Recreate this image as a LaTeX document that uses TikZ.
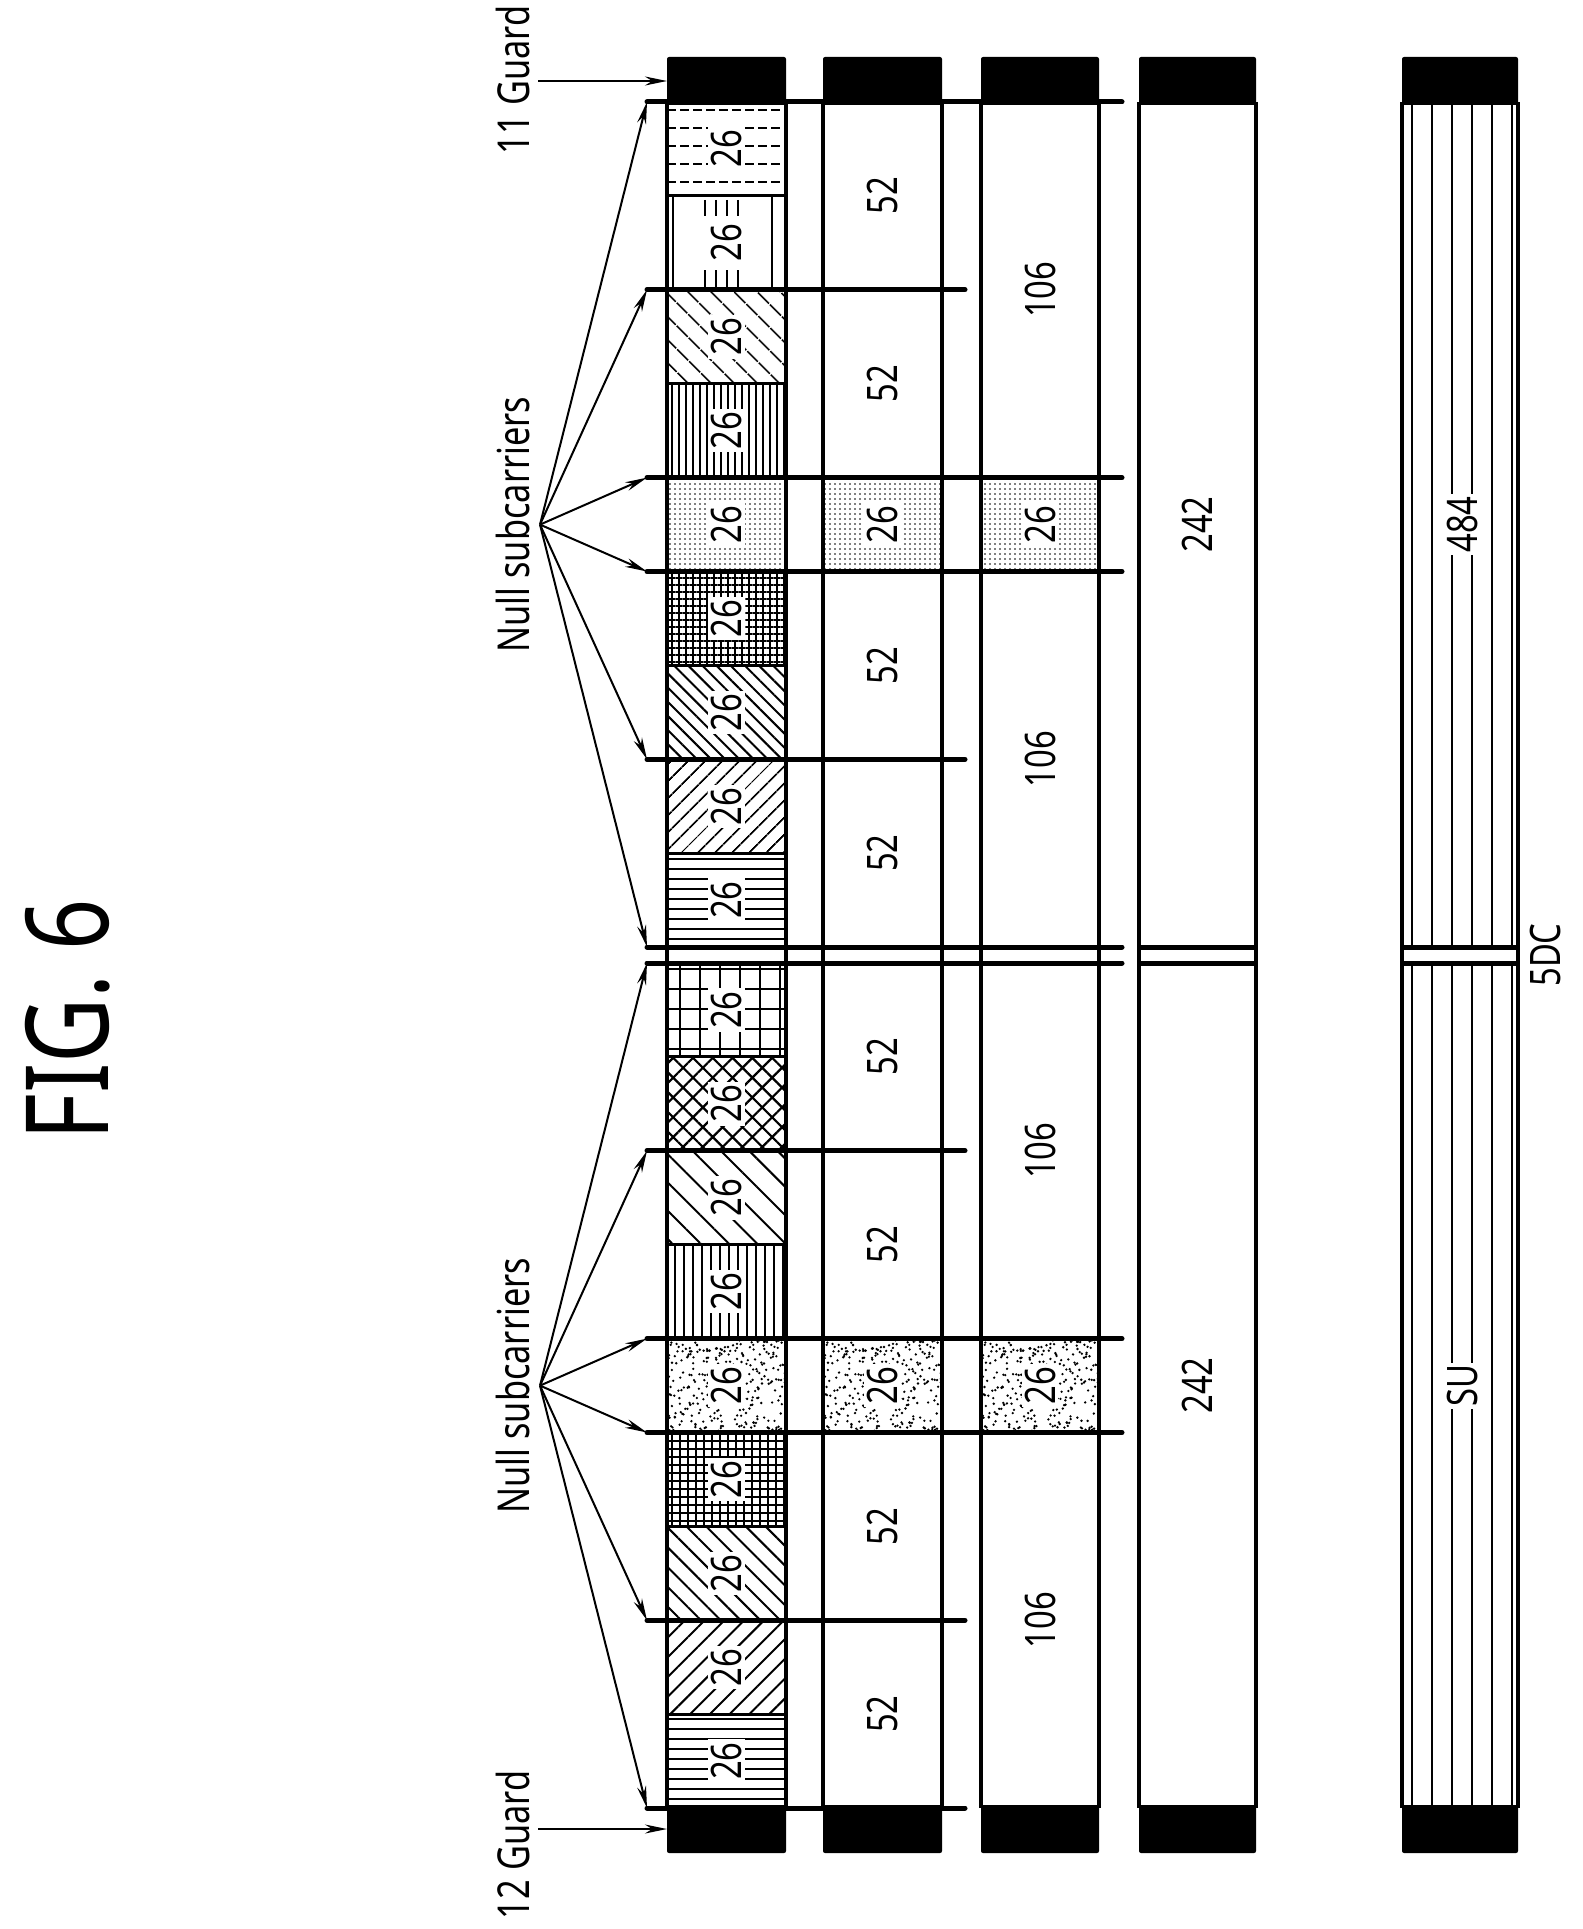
\documentclass[tikz,border=0pt]{standalone}
\usepackage{fontspec}
\setmainfont{Noto Sans}[FakeStretch=0.78]
\usetikzlibrary{patterns.meta,arrows.meta}
\begin{document}
\begin{tikzpicture}[x=1pt,y=-1pt,
 hl/.style={line width=5pt,line cap=round},
 frame/.style={line width=4.5pt},
 cellb/.style={line width=3pt},
 lab/.style={rotate=90,font=\fontsize{42}{46}\selectfont,inner sep=3pt},
 wlab/.style={lab,fill=white},
 arr/.style={line width=2pt,-{Stealth[length=22pt,width=9pt]}},
 blk/.style={fill=black,rounded corners=2pt},
 txt/.style={rotate=90,font=\fontsize{44}{48}\selectfont,inner sep=0pt}]
\useasboundingbox (0,0) rectangle (1582,1929);
\newcommand\rdots[4]{\begin{scope}\clip (#1,#3) rectangle (#2,#4);
 \pgfmathsetseed{13}\foreach \i in {1,...,320}{\fill ({#1+rnd*(#2-#1)},{#3+rnd*(#4-#3)}) circle (1.3pt);}\end{scope}}
% ---------- black guards ----------
\foreach \a/\b [count=\i] in {667/786,823/942,981/1099,1139/1256,1402/1518}{
 \fill[blk] (\a,57) rectangle (\b,105);
 \fill[blk] (\a,1805) rectangle (\b,1853);}
% ---------- column 1 cells ----------
\newcommand\cellp[4]{\draw[cellb,#3] (667,#1) rectangle (786,#2);}
\begin{scope}\clip (667,102) rectangle (786,195.9);
 \foreach \y in {110,128,146,164,182}{\draw[line width=1.8pt,dash pattern=on 9pt off 4pt] (667,\y)--(786,\y);}
\end{scope}
\draw[cellb] (667,102) rectangle (786,195.9);
\draw[line width=2pt] (673,195.9)--(673,289.8) (772,195.9)--(772,289.8);
\foreach \x in {705,716,727,738}{\draw[line width=2pt] (\x,200)--(\x,216) (\x,270)--(\x,287);}
\draw[cellb] (667,195.9) rectangle (786,289.8);
\cellp{289.8}{383.7}{pattern={Lines[angle=-45,distance=17pt,line width=2pt]}}{}
\cellp{383.7}{477.6}{pattern={Lines[angle=90,distance=7pt,line width=2pt]}}{}
\cellp{477.6}{571.5}{pattern={Dots[distance=5pt,radius=0.9pt]}}{}
\cellp{571.5}{665.4}{pattern={Hatch[angle=0,distance=7pt,line width=1.6pt]}}{}
\cellp{665.4}{759.3}{pattern={Lines[angle=-45,distance=10pt,line width=2pt]}}{}
\cellp{759.3}{853.2}{pattern={Lines[angle=45,distance=13pt,line width=2pt]}}{}
\cellp{853.2}{947}{pattern={Lines[angle=0,distance=10pt,line width=2pt]}}{}
\cellp{963}{1056.9}{pattern={Hatch[angle=0,distance=20pt,line width=1.6pt]}}{}
\cellp{1056.9}{1150.8}{pattern={Hatch[angle=45,distance=14pt,line width=2.2pt]}}{}
\cellp{1150.8}{1244.7}{pattern={Lines[angle=-45,distance=20pt,line width=2pt]}}{}
\cellp{1244.7}{1338.6}{pattern={Lines[angle=90,distance=9pt,line width=2pt]}}{}
\rdots{667}{786}{1338.6}{1432.5}\draw[cellb] (667,1338.6) rectangle (786,1432.5);
\cellp{1432.5}{1526.4}{pattern={Hatch[angle=0,distance=8pt,line width=1.6pt]}}{}
\cellp{1526.4}{1620.3}{pattern={Lines[angle=-45,distance=14pt,line width=2pt]}}{}
\cellp{1620.3}{1714.2}{pattern={Lines[angle=45,distance=14pt,line width=2pt]}}{}
\cellp{1714.2}{1808}{pattern={Lines[angle=0,distance=10pt,line width=2pt]}}{}
\draw[cellb,pattern={Dots[distance=5pt,radius=0.9pt]}] (823,477.6) rectangle (942,571.5);
\draw[cellb,pattern={Dots[distance=5pt,radius=0.9pt]}] (981,477.6) rectangle (1099,571.5);
\rdots{823}{942}{1338.6}{1432.5}\rdots{981}{1099}{1338.6}{1432.5}
\foreach \x in {1412,1432,1452,1472,1492,1512}{\draw[line width=1.6pt] (\x,105)--(\x,947) (\x,963)--(\x,1805);}
% ---------- column frames ----------
\foreach \a/\b in {667/786,823/942,981/1099,1139/1256,1402/1518}{
 \draw[frame] (\a,102)--(\a,1808) (\b,102)--(\b,1808);}
% ---------- horizontal lines ----------
\foreach \y/\e in {102/1122,289.8/965,477.6/1122,571.5/1122,759.3/965,947/1122,963/1122,1150.8/965,1338.6/1122,1432.5/1122,1620.3/965,1808/965}{
 \draw[hl] (647,\y)--(\e,\y);}
\draw[hl,line cap=butt] (1139,947)--(1256,947) (1139,963)--(1256,963) (1402,947)--(1518,947) (1402,963)--(1518,963);
% ---------- labels ----------
\foreach \y [count=\i] in {149,242.9,336.8,430.7,524.6,618.5,712.4,806.3,900.1,1010,1103.9,1197.8,1291.7,1385.6,1479.5,1573.4,1667.3,1761.1}{
 \node[wlab] (a\i) at (726.5,\y) {26};}
\node[lab] (b1) at (882.5,195.9) {52};
\node[lab] (b2) at (882.5,383.7) {52};
\node[wlab] (b3) at (882.5,524.6) {26};
\node[lab] (b4) at (882.5,665.4) {52};
\node[lab] (b5) at (882.5,853.2) {52};
\node[lab] (b6) at (882.5,1056.9) {52};
\node[lab] (b7) at (882.5,1244.7) {52};
\node[wlab] (b8) at (882.5,1385.6) {26};
\node[lab] (b9) at (882.5,1526.4) {52};
\node[lab] (b10) at (882.5,1714.2) {52};
\node[lab] (c1) at (1040,289.8) {106};
\node[wlab] (c2) at (1040,524.6) {26};
\node[lab] (c3) at (1040,759.3) {106};
\node[lab] (c4) at (1040,1150.8) {106};
\node[wlab] (c5) at (1040,1385.6) {26};
\node[lab] (c6) at (1040,1620.3) {106};
\node[lab] (d1) at (1197.5,524.6) {242};
\node[lab] (d2) at (1197.5,1385.6) {242};
\node[wlab,inner sep=2pt] (e1) at (1462,524.6) {484};
\node[wlab,inner sep=2pt] (e2) at (1462,1385.6) {SU};
\node[lab,inner sep=0pt] (dc) at (1545,955) {5DC};
% ---------- annotations ----------
\node[rotate=90,font=\fontsize{115}{125}\selectfont,inner sep=0pt] (fig) at (68,1020) {FIG. 6};
\node[txt,anchor=south] (n1) at (530,524.6) {Null subcarriers};
\node[txt,anchor=south] (n2) at (530,1385.6) {Null subcarriers};
\node[txt] (g11) at (513,80) {11 Guard};
\node[txt] (g12) at (513,1845) {12 Guard};
\coordinate (p1) at (540,524.6);
\coordinate (p2) at (540,1385.6);
\foreach \y [count=\i] in {102,289.8,477.6,571.5,759.3,947}{
 \coordinate (tu\i) at (647,\y); \draw[arr] (p1)--(tu\i);}
\foreach \y [count=\i] in {963,1150.8,1338.6,1432.5,1620.3,1808}{
 \coordinate (tl\i) at (647,\y); \draw[arr] (p2)--(tl\i);}
\coordinate (gu) at (667,81); \coordinate (gl) at (667,1829);
\draw[arr] (538,81)--(gu);
\draw[arr] (538,1829)--(gl);
\end{tikzpicture}
\end{document}
